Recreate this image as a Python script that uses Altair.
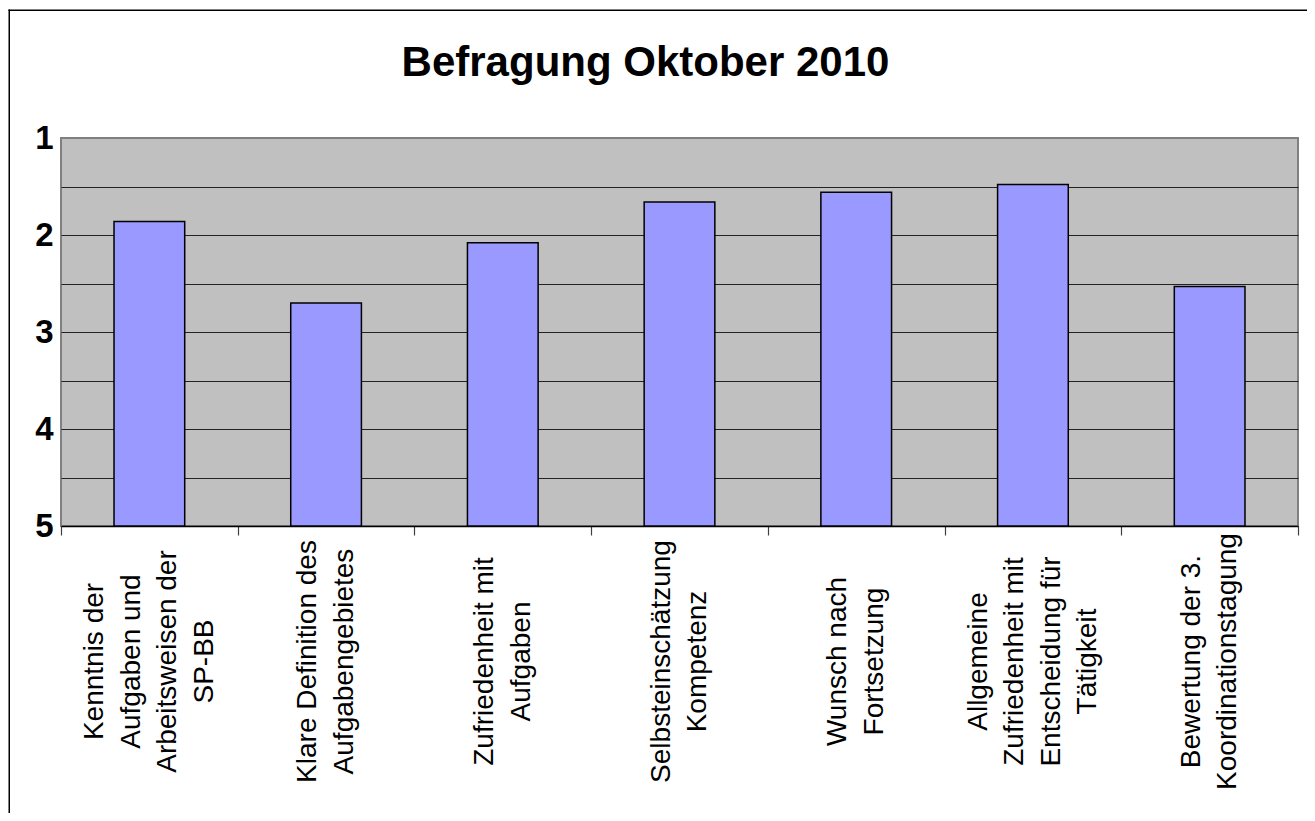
import altair as alt
import pandas as pd

title_text = "Befragung Oktober 2010"
categories = [
    "Kenntnis der\nAufgaben und\nArbeitsweisen der\nSP-BB",
    "Klare Definition des\nAufgabengebietes",
    "Zufriedenheit mit\nAufgaben",
    "Selbsteinschätzung\nKompetenz",
    "Wunsch nach\nFortsetzung",
    "Allgemeine\nZufriedenheit mit\nEntscheidung für\nTätigkeit",
    "Bewertung der 3.\nKoordinationstagung",
]
values = [1.86, 2.70, 2.08, 1.66, 1.56, 1.48, 2.53]
y_ticks = [1, 1.5, 2, 2.5, 3, 3.5, 4, 4.5, 5]

FONT = "Liberation Sans, Arial, sans-serif"
LINE_H = 36.5
PLOT_W, PLOT_H = 1237, 388
PAD = {"left": 53, "top": 130, "right": 9, "bottom": 287}

df = pd.DataFrame({"Kategorie": categories, "Wert": values})

bars = alt.Chart(df).mark_bar(
    color="#9999FF", stroke="black", strokeWidth=1.5, width={"band": 0.4}
).encode(
    x=alt.X(
        "Kategorie:N",
        sort=categories,
        scale=alt.Scale(paddingInner=0, paddingOuter=0),
        axis=alt.Axis(
            title=None,
            labelAngle=-90,
            labelAlign="center",
            labelBaseline="middle",
            labelExpr="split(datum.label, '\\n')",
            labelFont=FONT,
            labelFontSize=28,
            labelLineHeight=LINE_H,
            labelColor="black",
            labelPadding=126,
            labelLimit=0,
            labelOffset=alt.condition(
                "length(split(datum.label, '\\n')) == 4",
                alt.value(-1.5 * LINE_H),
                alt.value(-0.5 * LINE_H),
            ),
            labelOverlap=False,
            labelBound=False,
            labelFlush=False,
            tickBand="extent",
            tickSize=9,
            tickColor="#404040",
            tickWidth=1.2,
            domainColor="black",
            domainWidth=1.5,
            grid=False,
        ),
    ),
    y=alt.Y(
        "Wert:Q",
        scale=alt.Scale(domain=[1, 5], reverse=True, nice=False, zero=False),
        axis=alt.Axis(
            title=None,
            values=y_ticks,
            labelExpr="datum.value % 1 == 0 ? format(datum.value, 'd') : ''",
            labelFont=FONT,
            labelFontSize=33,
            labelFontWeight="bold",
            labelColor="black",
            labelPadding=8,
            ticks=False,
            tickSize=0,
            domain=False,
            grid=True,
            gridColor="#222222",
            gridWidth=1.2,
            gridOpacity=alt.condition(
                "datum.value == 1 || datum.value == 5", alt.value(0), alt.value(1)
            ),
            labelOverlap=False,
        ),
    ),
    y2=alt.datum(5),
)

frame_src = pd.DataFrame({"b": [0]})
right_edge = PLOT_W + PAD["right"]
bottom_edge = PLOT_H + PAD["bottom"]
border_top = alt.Chart(frame_src).mark_rect(color="black", strokeWidth=0).encode(
    x=alt.value(-52.5), x2=alt.value(right_edge), y=alt.value(-128.5), y2=alt.value(-127)
)
border_left = alt.Chart(frame_src).mark_rect(color="black", strokeWidth=0).encode(
    x=alt.value(-52.5), x2=alt.value(-51), y=alt.value(-128.5), y2=alt.value(bottom_edge)
)

chart = alt.layer(border_top, border_left, bars).properties(
    width=PLOT_W,
    height=PLOT_H,
    autosize=alt.AutoSizeParams(type="none"),
    padding=PAD,
    background="white",
    title=alt.Title(
        title_text,
        font=FONT,
        fontSize=42,
        fontWeight="bold",
        color="black",
        anchor="middle",
        frame="group",
        baseline="alphabetic",
        dx=-34,
        offset=-108,
    ),
).configure_view(
    fill="#C0C0C0", stroke="#808080", strokeWidth=2
)

chart.save("out.html", embed_options={"renderer": "svg", "actions": False})
